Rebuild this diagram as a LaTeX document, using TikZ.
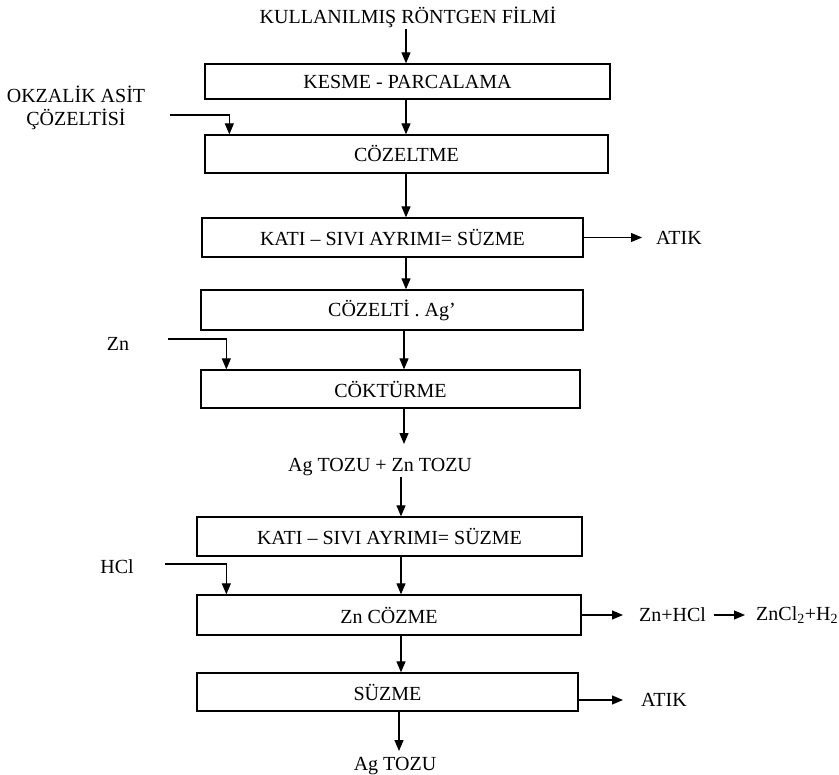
\documentclass[tikz,border=0pt]{standalone}
\usepackage{fontspec}
\setmainfont{Liberation Serif}
\usetikzlibrary{arrows.meta}
\begin{document}
\begin{tikzpicture}[x=1pt,y=-1pt,
  box/.style={draw, line width=1.3pt, inner sep=0pt, font=\fontsize{20}{23}\selectfont},
  lbl/.style={inner sep=1pt, font=\fontsize{20}{23}\selectfont},
  arr/.style={line width=1.2pt, -{Triangle[length=11pt,width=9pt]}}]
\useasboundingbox (0,0) rectangle (839,775);
% column coordinates
\coordinate (cA) at (406,0);
\coordinate (cB) at (404,0);
\coordinate (cC) at (401,0);
\coordinate (cD) at (399,0);
% title and boxes
\node[lbl] (t) at (408,17) {KULLANILMIŞ RÖNTGEN FİLMİ};
\node[box, minimum width=405pt, minimum height=35pt] (b1) at (407.5,81.5) {KESME - PARCALAMA};
\node[box, minimum width=403pt, minimum height=38pt] (b2) at (406.5,154) {CÖZELTME};
\node[box, minimum width=381pt, minimum height=39pt] (b3) at (392.5,237.5) {KATI – SIVI AYRIMI= SÜZME};
\node[box, minimum width=382pt, minimum height=40pt] (b4) at (392,310) {CÖZELTİ . Ag'};
\node[box, minimum width=379pt, minimum height=38pt] (b5) at (390.5,389) {CÖKTÜRME};
\node[lbl] (ag1) at (380,467) {Ag TOZU + Zn TOZU};
\node[box, minimum width=385pt, minimum height=39pt] (b6) at (389.5,536.5) {KATI – SIVI AYRIMI= SÜZME};
\node[box, minimum width=384pt, minimum height=40pt] (b7) at (389,615) {Zn CÖZME};
\node[box, minimum width=381pt, minimum height=38pt] (b8) at (387.5,692) {SÜZME};
\node[lbl] (ag2) at (395,766) {Ag TOZU};
% side labels
\node[lbl, align=center] (okz) at (76,108) {OKZALİK ASİT\\ÇÖZELTİSİ};
\node[lbl] (zn) at (118,344) {Zn};
\node[lbl] (hcl) at (117,567) {HCl};
\node[lbl, anchor=west] (atik1) at (655,237.5) {ATIK};
\node[lbl, anchor=west] (zh) at (638,615) {Zn+HCl};
\node[lbl, anchor=west] (zc) at (755,615) {ZnCl\textsubscript{2}+H\textsubscript{2}};
\node[lbl, anchor=west] (atik2) at (640,700) {ATIK};
% side input starts
\coordinate (oks) at (170,115);
\coordinate (zns) at (168,339);
\coordinate (hcs) at (165,564);
% main flow
\draw[arr] (t.south -| cA) -- (b1.north -| cA);
\draw[arr] (b1.south -| cA) -- (b2.north -| cA);
\draw[arr] (b2.south -| cA) -- (b3.north -| cA);
\draw[arr] (b3.south -| cA) -- (b4.north -| cA);
\draw[arr] (b4.south -| cB) -- (b5.north -| cB);
\draw[arr] (b5.south -| cB) -- ([yshift=13pt]ag1.north -| cB);
\draw[arr] (ag1.south -| cC) -- (b6.north -| cC);
\draw[arr] (b6.south -| cC) -- (b7.north -| cC);
\draw[arr] (b7.south -| cC) -- (b8.north -| cC);
\draw[arr] (b8.south -| cD) -- ([yshift=5pt]ag2.north -| cD);
% side inputs
\draw[arr] (oks) -| ([xshift=25pt]b2.north west);
\draw[arr] (zns) -| ([xshift=26pt]b5.north west);
\draw[arr] (hcs) -| ([xshift=30pt]b7.north west);
% outputs
\draw[arr] (b3.east) -- ([xshift=-13pt]atik1.west);
\draw[arr] (b7.east) -- ([xshift=-15pt]zh.west);
\draw[arr] ([xshift=7pt]zh.east) -- ([xshift=-10pt]zc.west);
\draw[arr] ([yshift=-8pt]b8.east) -- ([xshift=-17pt]atik2.west);
\end{tikzpicture}
\end{document}
